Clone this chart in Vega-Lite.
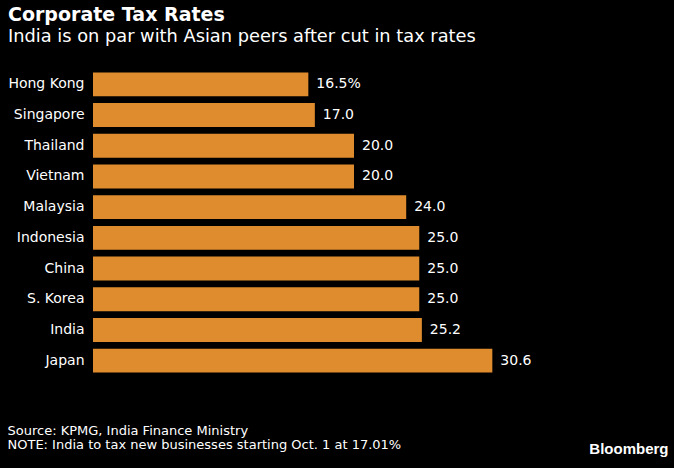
{
  "$schema": "https://vega.github.io/schema/vega-lite/v6.json",
  "width": 522,
  "height": 307,
  "autosize": {"type": "none"},
  "padding": {"left": 93, "top": 69, "right": 59, "bottom": 92},
  "background": "#000000",
  "config": {"view": {"stroke": null}},
  "title": {
    "text": "Corporate Tax Rates",
    "subtitle": "India is on par with Asian peers after cut in tax rates",
    "anchor": "start",
    "frame": "group",
    "dx": -85,
    "offset": 23,
    "color": "#ffffff",
    "subtitleColor": "#ffffff",
    "font": "DejaVu Sans",
    "fontSize": 19,
    "fontWeight": "bold",
    "subtitleFont": "DejaVu Sans",
    "subtitleFontSize": 17.8,
    "subtitleFontWeight": "normal",
    "subtitlePadding": 3
  },
  "data": {
    "values": [
      {"country": "Hong Kong", "rate": 16.5, "label": "16.5%"},
      {"country": "Singapore", "rate": 17.0, "label": "17.0"},
      {"country": "Thailand", "rate": 20.0, "label": "20.0"},
      {"country": "Vietnam", "rate": 20.0, "label": "20.0"},
      {"country": "Malaysia", "rate": 24.0, "label": "24.0"},
      {"country": "Indonesia", "rate": 25.0, "label": "25.0"},
      {"country": "China", "rate": 25.0, "label": "25.0"},
      {"country": "S. Korea", "rate": 25.0, "label": "25.0"},
      {"country": "India", "rate": 25.2, "label": "25.2"},
      {"country": "Japan", "rate": 30.6, "label": "30.6"}
    ]
  },
  "encoding": {
    "y": {
      "field": "country",
      "type": "nominal",
      "sort": null,
      "scale": {"paddingInner": 0.22, "paddingOuter": 0.11},
      "axis": {
        "domain": false,
        "ticks": false,
        "grid": false,
        "labelColor": "#ffffff",
        "labelFont": "DejaVu Sans",
        "labelFontSize": 14,
        "labelPadding": 9,
        "title": "Bloomberg",
        "titleAngle": 0,
        "titleX": 575,
        "titleY": 384,
        "titleAlign": "right",
        "titleBaseline": "alphabetic",
        "titleColor": "#ffffff",
        "titleFont": "Liberation Sans",
        "titleFontSize": 15,
        "titleFontWeight": "bold"
      }
    },
    "x": {
      "field": "rate",
      "type": "quantitative",
      "scale": {"domain": [0, 40], "nice": false},
      "axis": {
        "domain": false,
        "ticks": false,
        "grid": false,
        "labels": false,
        "title": ["Source: KPMG, India Finance Ministry", "NOTE: India to tax new businesses starting Oct. 1 at 17.01%"],
        "titleX": -86,
        "titleY": 58,
        "titleAlign": "left",
        "titleAnchor": "start",
        "titleBaseline": "alphabetic",
        "titleAngle": 0,
        "titleLineHeight": 14.5,
        "titleColor": "#ffffff",
        "titleFont": "DejaVu Sans",
        "titleFontSize": 13,
        "titleFontWeight": "normal"
      }
    }
  },
  "layer": [
    {"mark": {"type": "bar", "color": "#DF8C2E"}},
    {
      "mark": {"type": "text", "align": "left", "baseline": "middle", "dx": 8, "color": "#ffffff", "font": "DejaVu Sans", "fontSize": 14},
      "encoding": {"text": {"field": "label"}}
    }
  ]
}
